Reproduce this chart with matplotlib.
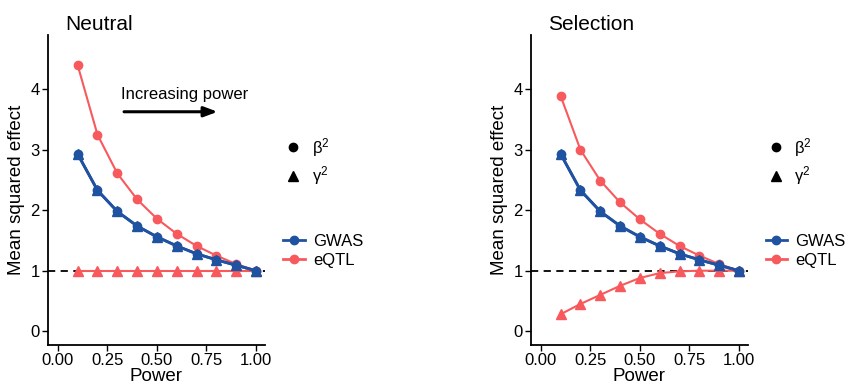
import numpy as np
import matplotlib.pyplot as plt
from matplotlib.lines import Line2D

plt.rcParams['font.family'] = ['Liberation Sans', 'DejaVu Sans']

power = [0.1, 0.2, 0.3, 0.4, 0.5, 0.6, 0.7, 0.8, 0.9, 1.0]

# GWAS: beta^2 and gamma^2 coincide
gwas = [2.93, 2.33, 1.98, 1.74, 1.56, 1.41, 1.28, 1.18, 1.09, 1.0]

neutral_eqtl_beta = [4.40, 3.25, 2.61, 2.18, 1.86, 1.61, 1.41, 1.25, 1.11, 1.0]
neutral_eqtl_gamma = [1.0, 1.0, 1.0, 1.0, 1.0, 1.0, 1.0, 1.0, 1.0, 1.0]

sel_eqtl_beta = [3.89, 3.00, 2.49, 2.13, 1.85, 1.61, 1.41, 1.25, 1.11, 1.0]
sel_eqtl_gamma = [0.28, 0.45, 0.60, 0.75, 0.88, 0.96, 0.99, 1.0, 1.0, 1.0]

blue = "#1f52a0"
red = "#f8595d"

fig = plt.figure(figsize=(8.49, 3.89), dpi=100)
ax1 = fig.add_axes([0.0565, 0.113, 0.2555, 0.797])
ax2 = fig.add_axes([0.6254, 0.113, 0.2555, 0.797])

panels = [(ax1, "Neutral", neutral_eqtl_beta, neutral_eqtl_gamma),
          (ax2, "Selection", sel_eqtl_beta, sel_eqtl_gamma)]

for ax, title, eb, eg in panels:
    ax.axhline(1, color="black", linestyle=(0, (4, 3)), linewidth=1.3, zorder=1)
    ax.plot(power, eb, color=red, linewidth=1.5, marker="o", markersize=6, zorder=3)
    ax.plot(power, eg, color=red, linewidth=1.5, marker="^", markersize=6.5, zorder=3)
    ax.plot(power, gwas, color=blue, linewidth=2, marker="o", markersize=6, zorder=4)
    ax.plot(power, gwas, color=blue, linewidth=2, marker="^", markersize=7, zorder=4)
    ax.set_xlim(-0.05, 1.045)
    ax.set_ylim(-0.23, 4.9)
    ax.set_xticks([0, 0.25, 0.5, 0.75, 1.0])
    ax.set_xticklabels(["0.00", "0.25", "0.50", "0.75", "1.00"])
    ax.set_yticks([0, 1, 2, 3, 4])
    ax.spines["top"].set_visible(False)
    ax.spines["right"].set_visible(False)
    ax.spines["left"].set_linewidth(1.3)
    ax.spines["bottom"].set_linewidth(1.3)
    ax.tick_params(labelsize=12, length=4, width=1, colors="black", pad=2)
    ax.set_xlabel("Power", fontsize=13.5, labelpad=0)
    ax.set_ylabel("Mean squared effect", fontsize=13.5, labelpad=4)
    ax.set_title(title, fontsize=15, loc="left", x=0.08, y=0.99)

ax1.annotate("", xy=(0.82, 3.63), xytext=(0.32, 3.63),
             arrowprops=dict(arrowstyle="-|>,head_length=0.8,head_width=0.3",
                             color="black", linewidth=2.2))
ax1.text(0.32, 3.92, "Increasing power", fontsize=12, ha="left", va="center")

shape_handles = [Line2D([], [], color="black", marker="o", linestyle="None", markersize=6),
                 Line2D([], [], color="black", marker="^", linestyle="None", markersize=6.5)]
shape_labels = [r"$\mathregular{\beta^2}$", r"$\mathregular{\gamma^2}$"]
color_handles = [Line2D([], [], color=blue, marker="o", linewidth=2, markersize=6),
                 Line2D([], [], color=red, marker="o", linewidth=2, markersize=6)]
color_labels = ["GWAS", "eQTL"]

for xa in [0.316, 0.884]:
    fig.legend(shape_handles, shape_labels, loc="center left", bbox_to_anchor=(xa, 0.585),
               frameon=False, fontsize=12, handlelength=1.2, handletextpad=0.5,
               labelspacing=0.35)
    fig.legend(color_handles, color_labels, loc="center left", bbox_to_anchor=(xa, 0.355),
               frameon=False, fontsize=12, handlelength=1.3, handletextpad=0.5,
               labelspacing=0.25)

plt.savefig("out.png", dpi=100)
